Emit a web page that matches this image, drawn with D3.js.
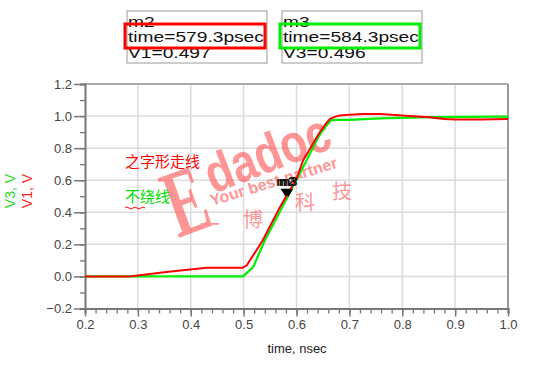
<!DOCTYPE html>
<html><head><meta charset="utf-8">
<script src="https://cdn.jsdelivr.net/npm/d3@7/dist/d3.min.js"></script>
<style>body{margin:0;background:#fff}svg{display:block}</style>
</head><body>
<script>
const xTicks = [0.2,0.3,0.4,0.5,0.6,0.7,0.8,0.9,1.0];
const yTicks = [-0.2,0.0,0.2,0.4,0.6,0.8,1.0,1.2];
const v1Time = [0.2,0.284,0.354,0.43,0.498,0.506,0.536,0.5686,0.600,0.6125,0.644,0.655,0.663,0.672,0.682,0.70,0.726,0.758,0.80,0.85,0.88,0.90,0.95,1.0];
const v1Vals = [0,0,0.027,0.054,0.054,0.069,0.224,0.432,0.609,0.723,0.899,0.95,0.982,0.995,1.003,1.009,1.013,1.013,1.003,0.993,0.982,0.978,0.978,0.982];
const v3Time = [0.2,0.499,0.518,0.540,0.619,0.641,0.655,0.666,0.70,0.758,0.85,1.0];
const v3Vals = [0,0,0.058,0.224,0.723,0.868,0.935,0.976,0.976,0.986,0.993,0.997];
const markers = [{name:"m2", t:0.5793, v:0.497, sig:"V1"},{name:"m3", t:0.5843, v:0.496, sig:"V3"}];

const W=540,H=368;
const svg=d3.select("body").append("svg").attr("width",W).attr("height",H);
const x=d3.scaleLinear().domain([0.2,1.0]).range([85,508]);
const y=d3.scaleLinear().domain([-0.2,1.2]).range([308.5,84]);
const F="Liberation Sans, Arial, sans-serif";

// grid
svg.append("g").selectAll("line").data(xTicks.slice(1,-1)).join("line")
  .attr("x1",d=>x(d)).attr("x2",d=>x(d)).attr("y1",y(1.2)).attr("y2",y(-0.2))
  .attr("stroke","#dcdcdc").attr("stroke-width",1.5);
svg.append("g").selectAll("line").data(yTicks.slice(1,-1)).join("line")
  .attr("x1",x(0.2)).attr("x2",x(1.0)).attr("y1",d=>y(d)).attr("y2",d=>y(d))
  .attr("stroke","#dcdcdc").attr("stroke-width",1.5);

// frame top/right
svg.append("line").attr("x1",x(0.2)).attr("x2",x(1.0)).attr("y1",y(1.2)).attr("y2",y(1.2)).attr("stroke","#aaa").attr("stroke-width",2);
svg.append("line").attr("x1",x(1.0)).attr("x2",x(1.0)).attr("y1",y(1.2)).attr("y2",y(-0.2)).attr("stroke","#999").attr("stroke-width",2);

// axes
const xAxis=d3.axisBottom(x).tickValues(d3.range(0.2,1.0001,0.02)).tickSize(5).tickFormat("");
const gx=svg.append("g").attr("transform",`translate(0,${y(-0.2)})`).call(xAxis);
gx.selectAll("line").attr("stroke","#777").attr("stroke-width",1.3);
gx.select(".domain").attr("stroke","#777").attr("stroke-width",2);
const xMaj=d3.axisBottom(x).tickValues(xTicks).tickSize(8).tickFormat(d3.format(".1f"));
const gx2=svg.append("g").attr("transform",`translate(0,${y(-0.2)})`).call(xMaj);
gx2.select(".domain").remove();
gx2.selectAll("line").attr("stroke","#777").attr("stroke-width",1.5);
gx2.selectAll("text").attr("font-family",F).attr("font-size",13).attr("fill","#444").attr("dy","0.9em").attr("y",9);

const yAxis=d3.axisLeft(y).tickValues(d3.range(-0.2,1.2001,0.1)).tickSize(5).tickFormat("");
const gy=svg.append("g").attr("transform",`translate(${x(0.2)},0)`).call(yAxis);
gy.selectAll("line").attr("stroke","#777").attr("stroke-width",1.3);
gy.select(".domain").attr("stroke","#777").attr("stroke-width",2);
const yMaj=d3.axisLeft(y).tickValues(yTicks).tickSize(11).tickFormat(d3.format(".1f"));
const gy2=svg.append("g").attr("transform",`translate(${x(0.2)},0)`).call(yMaj);
gy2.select(".domain").remove();
gy2.selectAll("line").attr("stroke","#777").attr("stroke-width",1.5);
gy2.selectAll("text").attr("font-family",F).attr("font-size",13).attr("fill","#444").attr("x",-13);

// axis titles
svg.append("text").attr("x",297).attr("y",353).attr("text-anchor","middle").attr("font-family",F).attr("font-size",13).attr("fill","#222").text("time, nsec");
svg.append("text").attr("transform","translate(15,191) rotate(-90)").attr("text-anchor","middle").attr("font-family",F).attr("font-size",14).attr("fill","#22dd22").text("V3, V");
svg.append("text").attr("transform","translate(32,191) rotate(-90)").attr("text-anchor","middle").attr("font-family",F).attr("font-size",14).attr("fill","#ff2020").text("V1, V");

// watermark
const wm=svg.append("g").attr("fill","#ff5050").attr("opacity",0.6);
wm.append("text").attr("transform","translate(178,238) rotate(-20) scale(0.62,1)").attr("font-family","Liberation Serif, serif").attr("font-weight","bold").attr("font-size",96).text("E");
wm.append("text").attr("transform","translate(213,194) rotate(-21) scale(0.82,1)").attr("font-family",F).attr("font-weight","bold").attr("font-size",54).text("dadoc");
wm.append("text").attr("transform","translate(212,206) rotate(-17)").attr("font-family",F).attr("font-weight","bold").attr("font-size",16).text("Your best partner");
const cn=[{c:"一",x:200,y:232},{c:"博",x:243,y:227},{c:"科",x:295,y:210},{c:"技",x:332,y:199}];
wm.selectAll("text.cn").data(cn).join("text").attr("class","cn").attr("x",d=>d.x).attr("y",d=>d.y)
  .attr("font-family","Noto Sans CJK SC").attr("font-size",20).text(d=>d.c);

// annotations
svg.append("text").attr("x",125).attr("y",167).attr("font-family","Noto Sans CJK SC").attr("font-size",15).attr("fill","#ff0000").text("之字形走线");
svg.append("text").attr("x",125).attr("y",202).attr("font-family","Noto Sans CJK SC").attr("font-size",15).attr("fill","#00dd00").text("不绕线");
svg.append("path").attr("d","M125,208 q2,-2 4,0 t4,0 t4,0 t4,0 t4,0").attr("fill","none").attr("stroke","#ff0000").attr("stroke-width",1);

// curves
const line=d3.line().x(d=>x(d[0])).y(d=>y(d[1]));
svg.append("path").datum(v3Time.map((t,i)=>[t,v3Vals[i]])).attr("d",line).attr("fill","none").attr("stroke","#00ee00").attr("stroke-width",2.2);
svg.append("path").datum(v1Time.map((t,i)=>[t,v1Vals[i]])).attr("d",line).attr("fill","none").attr("stroke","#ff0000").attr("stroke-width",2);

// markers
markers.forEach(m=>{
  const px=x(m.t),py=y(m.v);
  svg.append("path").attr("d",`M${px},${py} l-5,-8 l10,0 z`).attr("fill","#000");
  svg.append("text").attr("x",px).attr("y",py-11).attr("text-anchor","middle").attr("font-family",F).attr("font-weight","bold").attr("font-size",13).attr("fill","#111").text(m.name);
});

// marker readout boxes
const boxes=[{m:markers[0],x0:127,col:"#ff0000"},{m:markers[1],x0:282,col:"#00ee00"}];
boxes.forEach(b=>{
  svg.append("rect").attr("x",b.x0).attr("y",11).attr("width",140).attr("height",52).attr("fill","#fff").attr("stroke","#999").attr("stroke-width",1);
  const lines=[b.m.name,`time=${(b.m.t*1000).toFixed(1)}psec`,`${b.m.sig}=${b.m.v.toFixed(3)}`];
  const ys=[27,42,58];
  lines.forEach((s,i)=>{
    svg.append("text").attr("transform",`translate(${b.x0+1},${ys[i]}) scale(1.37,1)`).attr("font-family",F).attr("font-size",14).attr("fill","#111").text(s);
  });
  svg.append("rect").attr("x",b.x0-2).attr("y",24).attr("width",140).attr("height",24).attr("fill","none").attr("stroke",b.col).attr("stroke-width",3);
});
</script>
</body></html>
